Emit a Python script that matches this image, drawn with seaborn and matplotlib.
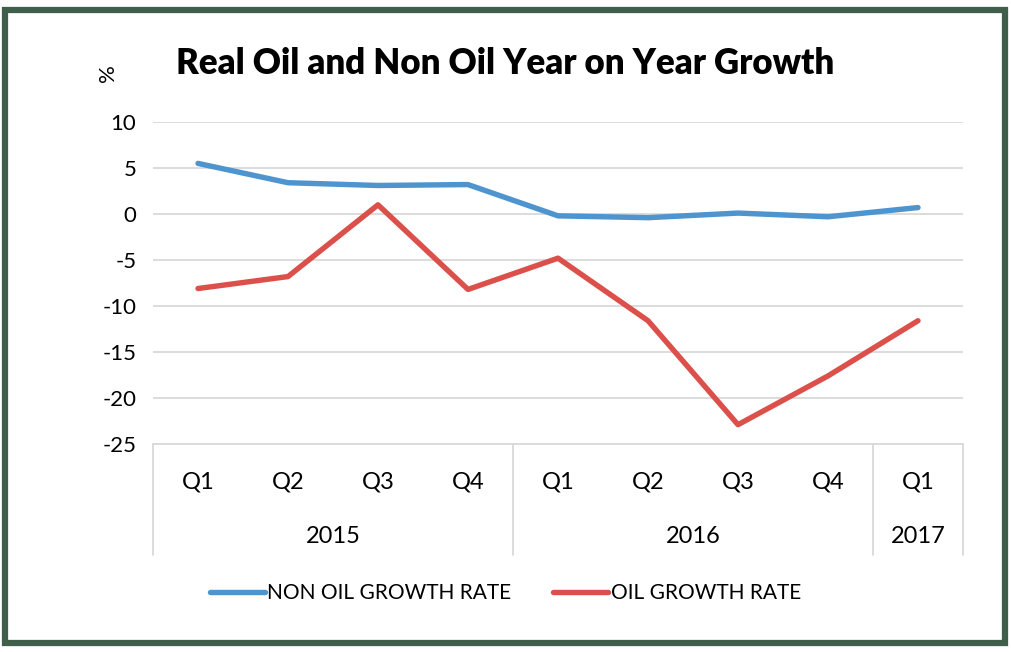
import numpy as np
import pandas as pd
import matplotlib
matplotlib.use("Agg")
import matplotlib.pyplot as plt
import matplotlib.transforms as mtransforms
from matplotlib.patches import Rectangle
import seaborn as sns

# data
quarters = ["Q1", "Q2", "Q3", "Q4", "Q1", "Q2", "Q3", "Q4", "Q1"]
years = ["2015", "2016", "2017"]
quarters_per_year = [4, 4, 1]
non_oil = [5.5, 3.4, 3.1, 3.2, -0.2, -0.4, 0.1, -0.3, 0.7]
oil = [-8.1, -6.8, 1.0, -8.2, -4.8, -11.6, -22.9, -17.6, -11.6]

blue = "#4e95d0"
red = "#dc504b"
grid_col = "#d9d9d9"

sns.set_theme(style="white")
plt.rcParams["font.family"] = ["Lato", "DejaVu Sans"]
plt.rcParams["axes.unicode_minus"] = False
plt.rcParams["text.color"] = "black"
plt.rcParams["ytick.color"] = "black"

df = pd.DataFrame({
    "pos": list(range(len(quarters))) * 2,
    "value": non_oil + oil,
    "series": ["NON OIL GROWTH RATE"] * len(quarters) + ["OIL GROWTH RATE"] * len(quarters),
})

fig = plt.figure(figsize=(10.11, 6.52), dpi=100)
ax = fig.add_axes([153 / 1011, 1 - 444 / 652, (963 - 153) / 1011, (444 - 122) / 652])

sns.lineplot(data=df, x="pos", y="value", hue="series",
             palette=[blue, red], linewidth=3.9, ax=ax, legend=True)

ax.set_xlim(-0.5, len(quarters) - 0.5)
ax.set_ylim(-25, 10)
ax.set_yticks(range(-25, 11, 5))
ax.yaxis.grid(True, color=grid_col, linewidth=1.3)
ax.set_axisbelow(True)
for s in ["top", "right", "left"]:
    ax.spines[s].set_visible(False)
ax.spines["bottom"].set_color(grid_col)
ax.spines["bottom"].set_linewidth(1.3)
ax.tick_params(axis="y", length=0, pad=12, labelsize=16, labelcolor="black")
ax.set_xticks([])
ax.set_xlabel("")
ax.set_ylabel("")

# two level category axis
trans = mtransforms.blended_transform_factory(ax.transData, ax.transAxes)
for i, q in enumerate(quarters):
    ax.text(i, -0.118, q, transform=trans, ha="center", va="center", fontsize=17, color="black")
start = 0
bounds = [-0.5]
for yr, n in zip(years, quarters_per_year):
    ax.text(start + (n - 1) / 2, -0.287, yr, transform=trans, ha="center", va="center",
            fontsize=17, color="black")
    start += n
    bounds.append(start - 0.5)
for b in bounds:
    ax.plot([b, b], [0, -0.345], transform=trans, color=grid_col, lw=1.3, clip_on=False)

# legend
handles, labels = ax.get_legend_handles_labels()
ax.get_legend().remove()
fig.legend(handles, labels, loc="center", bbox_to_anchor=(0.5, 1 - 593 / 652), ncol=2,
           frameon=False, fontsize=15, handlelength=2.65, handletextpad=0.1, columnspacing=2.0,
           labelcolor="black")

fig.text(505 / 1011, 1 - 63 / 652, "Real Oil and Non Oil Year on Year Growth",
         ha="center", va="center", fontsize=25, fontweight="heavy", color="black")
fig.text(108 / 1011, 1 - 73 / 652, "%", rotation=90, ha="center", va="center",
         fontsize=16, color="black")

# frame around the chart
fig.patches.append(Rectangle((5 / 1011, 9 / 652), 1000 / 1011, 633 / 652, transform=fig.transFigure,
                             fill=False, edgecolor="#3f5f4b", linewidth=4.5))

fig.savefig("out.png", dpi=100)
